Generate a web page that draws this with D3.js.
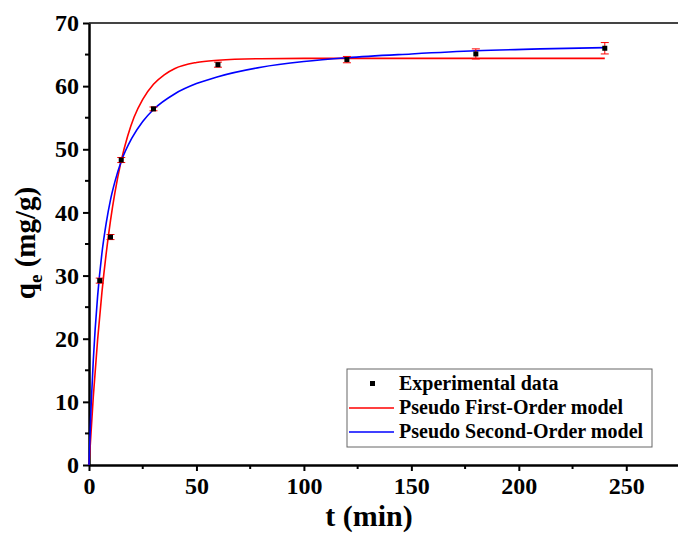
<!DOCTYPE html>
<html>
<head>
<meta charset="utf-8">
<script src="https://cdn.jsdelivr.net/npm/d3@7"></script>
<style>
  body { margin: 0; background: #fff; }
</style>
</head>
<body>
<div id="container"></div>
<script>
// experimental points (t in min, qe in mg/g) with error
const expT = [5, 10, 15, 30, 60, 120, 180, 240];
const expQ = [29.2, 36.1, 48.3, 56.4, 63.4, 64.2, 65.1, 66.0];
const expErr = [0.4, 0.4, 0.4, 0.3, 0.4, 0.5, 0.8, 0.9];

// model curves
const pfoT = [0, 2, 4, 6, 8, 10, 12, 15, 18, 21, 25, 30, 35, 40, 50, 60, 80, 100, 150, 200, 240];
const pfoQ = [0, 10.8, 19.8, 27.3, 33.5, 38.7, 43.0, 48.2, 52.1, 55.1, 57.9, 60.3, 61.8, 62.8, 63.75, 64.1, 64.35, 64.4, 64.4, 64.4, 64.4];
const psoT = [0, 1, 2, 4, 6, 8, 10, 12, 15, 20, 25, 30, 40, 50, 60, 80, 100, 120, 150, 180, 210, 240];
const psoQ = [0, 9.5, 16.6, 26.7, 33.5, 38.3, 42.0, 44.8, 48.1, 51.8, 54.4, 56.3, 58.8, 60.4, 61.5, 63.0, 63.9, 64.5, 65.1, 65.6, 65.9, 66.1];

const xTicks = [0, 50, 100, 150, 200, 250];
const yTicks = [0, 10, 20, 30, 40, 50, 60, 70];

const legendLabels = ["Experimental data", "Pseudo First-Order model", "Pseudo Second-Order model"];

const FONT = "'Liberation Serif', 'Times New Roman', Times, serif";

const margin = { top: 23, right: 0, bottom: 71, left: 89 },
    width = 680 - margin.left,
    height = 536 - margin.top - margin.bottom;

const svg = d3.select("#container")
    .append("svg")
    .attr("width", 678)
    .attr("height", 536)
    .attr("font-family", FONT)
    .attr("font-weight", "bold");

const g = svg.append("g")
    .attr("transform", `translate(${margin.left}, ${margin.top})`);

const x = d3.scaleLinear().domain([0, 275]).range([0, width]);
const y = d3.scaleLinear().domain([0, 70]).range([height, 0]);

// frame (top / right)
g.append("line")
    .attr("x1", 0).attr("x2", width)
    .attr("y1", 0).attr("y2", 0)
    .attr("stroke", "#444").attr("stroke-width", 2);
g.append("line")
    .attr("x1", width).attr("x2", width)
    .attr("y1", 0).attr("y2", height)
    .attr("stroke", "#444").attr("stroke-width", 2);

// minor ticks
const xMinor = d3.range(25, 275, 50);
const yMinor = d3.range(5, 70, 10);
g.selectAll(".xminor").data(xMinor).enter().append("line")
    .attr("x1", d => x(d)).attr("x2", d => x(d))
    .attr("y1", height).attr("y2", height + 4)
    .attr("stroke", "#000").attr("stroke-width", 2);
g.selectAll(".yminor").data(yMinor).enter().append("line")
    .attr("x1", 0).attr("x2", -4)
    .attr("y1", d => y(d)).attr("y2", d => y(d))
    .attr("stroke", "#000").attr("stroke-width", 2);

// X axis
const xAxis = g.append("g")
    .attr("transform", `translate(0, ${height})`)
    .call(d3.axisBottom(x).tickValues(xTicks).tickSize(6).tickPadding(6).tickSizeOuter(0));
xAxis.attr("font-family", FONT).attr("font-size", 24);
xAxis.select(".domain").attr("stroke-width", 2.5);
xAxis.selectAll(".tick line").attr("stroke-width", 2);
xAxis.selectAll("text").attr("fill", "#000");

// Y axis
const yAxis = g.append("g")
    .call(d3.axisLeft(y).tickValues(yTicks).tickSize(6).tickPadding(4).tickSizeOuter(0));
yAxis.attr("font-family", FONT).attr("font-size", 24);
yAxis.select(".domain").attr("stroke-width", 2.5);
yAxis.selectAll(".tick line").attr("stroke-width", 2);
yAxis.selectAll("text").attr("fill", "#000");

// axis titles
svg.append("text")
    .attr("x", 369)
    .attr("y", 526)
    .attr("text-anchor", "middle")
    .attr("font-size", 30)
    .text("t (min)");

const yTitle = svg.append("text")
    .attr("transform", "translate(35, 243) rotate(-90)")
    .attr("text-anchor", "middle")
    .attr("font-size", 29);
yTitle.append("tspan").text("q");
yTitle.append("tspan").attr("dy", 7).attr("font-size", 19).text("e");
yTitle.append("tspan").attr("dy", -7).text(" (mg/g)");

// model curves
const line = d3.line()
    .x(d => x(d[0]))
    .y(d => y(d[1]))
    .curve(d3.curveMonotoneX);

g.append("path")
    .datum(pfoT.map((t, i) => [t, pfoQ[i]]))
    .attr("d", line)
    .attr("fill", "none")
    .attr("stroke", "#ff0000")
    .attr("stroke-width", 1.6);

g.append("path")
    .datum(psoT.map((t, i) => [t, psoQ[i]]))
    .attr("d", line)
    .attr("fill", "none")
    .attr("stroke", "#0000ff")
    .attr("stroke-width", 1.6);

// error bars + points
const pts = expT.map((t, i) => ({ t: t, q: expQ[i], e: expErr[i] }));
const eb = g.selectAll(".err").data(pts).enter().append("g").attr("class", "err");
eb.append("line")
    .attr("x1", d => x(d.t)).attr("x2", d => x(d.t))
    .attr("y1", d => y(d.q + d.e)).attr("y2", d => y(d.q - d.e))
    .attr("stroke", "#ff0000").attr("stroke-width", 1);
eb.append("line")
    .attr("x1", d => x(d.t) - 4).attr("x2", d => x(d.t) + 4)
    .attr("y1", d => y(d.q + d.e)).attr("y2", d => y(d.q + d.e))
    .attr("stroke", "#ff0000").attr("stroke-width", 1);
eb.append("line")
    .attr("x1", d => x(d.t) - 4).attr("x2", d => x(d.t) + 4)
    .attr("y1", d => y(d.q - d.e)).attr("y2", d => y(d.q - d.e))
    .attr("stroke", "#ff0000").attr("stroke-width", 1);

g.selectAll(".pt").data(pts).enter().append("rect")
    .attr("x", d => x(d.t) - 2.5)
    .attr("y", d => y(d.q) - 2.5)
    .attr("width", 5)
    .attr("height", 5)
    .attr("fill", "#000");

// legend
const lg = svg.append("g").attr("transform", "translate(347, 369)");
lg.append("rect")
    .attr("width", 305).attr("height", 78)
    .attr("fill", "#fff")
    .attr("stroke", "#666").attr("stroke-width", 1);

const rowY = [15, 39, 63];
lg.append("rect")
    .attr("x", 23).attr("y", rowY[0] - 3)
    .attr("width", 5).attr("height", 5)
    .attr("fill", "#000");
lg.append("line")
    .attr("x1", 2).attr("x2", 47)
    .attr("y1", rowY[1]).attr("y2", rowY[1])
    .attr("stroke", "#ff0000").attr("stroke-width", 1.6);
lg.append("line")
    .attr("x1", 2).attr("x2", 47)
    .attr("y1", rowY[2]).attr("y2", rowY[2])
    .attr("stroke", "#0000ff").attr("stroke-width", 1.6);

lg.selectAll(".lt").data(legendLabels).enter().append("text")
    .attr("x", 52)
    .attr("y", (d, i) => rowY[i] + 6)
    .attr("font-size", 20)
    .text(d => d);
</script>
</body>
</html>
